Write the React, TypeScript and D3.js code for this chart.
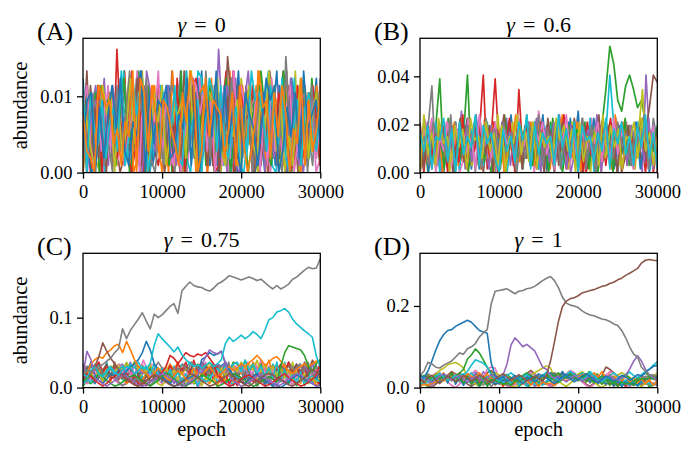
import { useEffect, useRef } from 'react';
import * as d3 from 'd3';

const EPOCH_MAX = 30000;
const X_TICKS = [0, 10000, 20000, 30000];

// Every string is one species: base-36 chars evenly spread over 0..30000 epochs
// (spaces ignored), multiplied by the group's unit to get the abundance.

// (A) gamma = 0
const A_UNIT = 0.00095;
const A_SERIES = [
  '3a61c0852b4907d3a185c2906b37a0e4158b2c6093a7150c8e2a4960b37d1',
  'b2807c49a15e3068b29c4071a5d3b806c2a9417e05b3a6c28049b1d7063a95c8',
  '07b4c2915a803e6b1492c07a5b38d1604ac92b7053e81a6c4097b2d51',
  'c5039a7b1h6e2048c9a3156b0d7248a1c063b9e5027a4c81b3690d2a5714b8a2',
  '419c06a2b8573d0916c4a82e0b5937a1h604d28b5190a73ce1b4068a2',
  'a0c7351b94028d6a3c17b504e92a68c03b71594ga026c8b3170a59e2c60483b96',
  '2896b0c4137a5e0829c6b14a3072d59b18c0e4637a29b05c81d4369a02',
  '6c1a4907b38c25d016a9b4730c5e82a16b94073dc2859a0614b30g72a9c51b4',
  '95b2086c1a4d3709b5c2a61807e4b39c2056a1d8430b97c16a2e05b389',
  '1b78c3054a9e2b61d8037c4a95b1206ed3a8571c0b49268c3ae1047b5d2962a7c',
  'd4016b9a2c5738e0b14a6c290785d3a1b06c47e29803b5a1c60d74a2985',
  '08a3c59b1647d02ab8c3960e4517a2bc0d6834a91c5b0e7263a8d14c0b9572',
  '7c2b05a918d463b0c7a29154e06b3a8c172d0594b6ac83172e5094c1ab3',
  '3596c0a4b2718e3d05a6c9142b708cd3a56019b4e2c78053a1d4b6902c8a5c71',
  'b08a3d1c6527940eb3a8c61579d0243ab6c8109e5a73b24c0d81a6b39',
  '5e192c0b7a4836d1c09b5a2740e8c3b619a057d2c4a80b63e9150c7a2b4869',
  '9c4073b2a6d15890c3b7e2a416059dc8b3a07142e6c9a5b081d3729c04ab6a28',
  '26b9a140c37e5b8d2061ac94b3750e2c8a1d694b07c35a28e1b690c4d',
  'a7315c8b0926d4ae03b7c1598a2e406cb9d3175a08c42b6e93a0517dc28b4',
  'c0b64a2793e15d8ca0473b96c21e58a07db3c4269105eab83c74d206a19b53a',
  '4ab0928c6d3175e0b4a9c2386d1b07a5e2c4930b8617dac0395b2e68a4',
  '8320cb9a46175e0db3c82a9641b7ec03d5a9826b1c4037e9a2b5c8064d1a36b',
];

// (B) gamma = 0.6
const B_UNIT = 0.0015;
const B_SERIES = [
  '5c8a2d0b6e 39f1c7a4d2 8b0g5a3c9e 16d4b8a2f7 h0c5a9d3b1 6e4a8c2d07 9',
  'a3d7b0c9e2 5a8d1f6b3c 0d9a4e7b2c 8a5g1d3b9c 6a0e4c8d2b 7f3a9c',
  '4b08dq3c96 5ar2e8b40d 7c39a61b4e d82e5b07c3 9c4d60dnzu khornikea7 3',
  '3d81b6a0c9 28e5dbr1aq 7c3b0n5d8a 2e6c94b17a 3d05c8a2e9 6b4d17c0a8 3',
  'b2e7a40d9c 5h1b8e3a6d 0c9f2a7b4e 8d1c6a3g9b 05e2d8a4c7 b1f6a9d3c0 r8b4',
  '07c4e1a9d3 b6f28c0a5e 3d9b16a4c8 e2a70d5b3f 9c16b4e8a2 d05c7a3bir p',
  'd5a9c2e7b0 4f8a1d6c3b 9e2a5c0h7d 3b8e1a4c6f 0d9b2a7e5c 8a1d4',
  '82co1d5b9e 3a7c0f4b8d 2e6a9c1g5b 7d0a3e8c4b 6f1d9a2c5e 0b8d4a7c3f 9',
  '1a6d3f8b0c 5e9a2d7c4b 0g3a8e1c6d 9b4f2a7d5c 1e8b3a0d6c 4a9e2b7d1c n5a3b',
  'c4a8e0d3b7 1f5c9a2e6b 8d0a4c7g3e 1b5d9a2c8e 4a6f0c3brd 5b9a2e7c1d 6',
  '6d0b9a4e2c 7a5f1d8b3c 0e6a9d2b5g 1c8a4e7d0b 3f9c6a2d5b 8e1a4c7',
  '9b3e6a0d8c 2f5b7a1e4d 9c0a6g3b8e 2d5a1c9f7b 4e0d6a3c8b 1g5e9a2d7c 4b0',
  '2e7a5c1f9b 4d0a8e3c6b 1g9a4d7c2e 5b0f8a3d6c 9e1b4a7d0c 5f2a8e3b6d',
  'a0d5b8e2c7 3g1a6d9b4e 0c7f2a5d8b 1e4c9a6g3d 7b0e5a2c8f 4d1b7a9e3c 0a',
  '5f9c2a7e0b 8d3g6a1c4e 9b2d5a8f0c 3e7a1d6b9c 4g0a5e8c2d 7b3f1a',
  'e1b6a4d9c0 7f3a8e2b5d 0c9g4a7e1b 6d3a0f8c2e 5b9a4d7c1g 3e8a0b6d2c 9f4a7b',
  '3c8f0a6e2d 9b5a1g7c4e 0d8a3f6b2c 9e5a1d7g4b 0c6a8e3d2f 5b9a1c7e4d 0',
  '7a2e9c4g0b 5d8a1f6c3e 9b0a4d7g2c 6e1a8b5f3d 0c9a4e7b2d 6g1a3',
  '0g5b2e8a3d 7c1f9a4e6b 2d0a8g5c3e 1b7a4f9d6c 0e3a8b2g5d 7c1a9e4f6 b2a',
  'b6d1a9f3c0 e5a7g2d8b4 0c6a3e9f1d 5b8a2g7c4e 0d9a3b6f1c 8e5a2d7g4b 1',
];

// (C) gamma = 0.75: species with visible bumps (unit 0.002), the rest (unit 0.0028)
const C_MARKED_UNIT = 0.002;
const C_MARKED = [
  '6bi9536a8c 9cfhkpxrhd 8531246798 kmpnoqhd96 4368a75312 0247986431 2',
  '5ahkmlpruv pxrkfca7ae b759ca647b 9cfb7adfce hfiknkgilm jfcadfhfhj h',
  '4796a85312 4689753135 8a96421357 98641246a9 7531246864 fputsrnfch k',
  '6a8531368b 9642135798 bfnlhlpnmo nplh963124 6897531246 8a75312469 h',
  '9qk7531357 9864212468 a975312469 gmrpoqi853 1246897531 2468a97531 2',
  '68bfmwqlhd 9642135798 6421246a97 5312468a86 4213579a97 6421357bdb 9',
];
const C_REST_UNIT = 0.0028;
const C_REST = [
  '3687a9b642 1357ac8b64 2358796a4c 9d7b524136 8a7c9e8b63 5247a68b93 5',
  '9b7c846a53 1245378b9d a7c5836241 35a8b7d9c6 4827351469 b8da7c5634 2',
  '2546879bac 8d96b47352 1436589a7c b9d8a64725 3156487a9c 8b6d49573a 2',
  'a8b9c7d586 4735261435 8a7b9cad8b 6947352416 3758a9b7c8 6d5a473825 1',
  '4352687a9b 8c7d5b6a49 3725143658 7b9acbd9a6 8475362413 5a79c8b6d4 9',
  '7869a5b3c4 6253147968 a8c9d7b5a6 3425163849 7b8dac9e7b 5c4a627351 4',
  '1324576a8b 9c8d7b6a59 4736251423 5869a7b8dc 9e8b6c4a57 3624153789 a',
  'b9cad8b6a7 5836241354 a6b8c9d7e8 c6a4b37261 425368a7b9 c8d6b5a473 2',
  '5463728a9b c8d6b7a594 8362514370 8a9bcad9b7 c5a4836251 4367a9b8c6 d',
  '8a7b69c5d4 b3a2716354 8796a8b9ca db8c7a6b59 3826143579 a9b8c7d9eb 5',
  '3254769a8c 7b6d8e9cb7 a58463725 14368a7c9b 8ad6c5b4a3 9281634579 6',
  'c8b9a76857 4635241365 87a9c8db9a 7c6b5d4a39 2718364 5a7b9c8d7b 6',
  '6574839a8b 9cad9b8c7a 6b59483726 15347a69b8 dac9e8c7b6 a594837253 4',
  '2435768a79 b8cad9b7c6 a594837261 5348a7b9cd 8e9c7b6a5d 4937281564 3',
];
const C_GRAY = [
  0.020, 0.025, 0.022, 0.028, 0.030, 0.033, 0.038, 0.042, 0.050, 0.056,
  0.084, 0.070, 0.082, 0.090, 0.098, 0.107, 0.095, 0.084, 0.105, 0.100,
  0.104, 0.110, 0.116, 0.120, 0.106, 0.138, 0.145, 0.151, 0.146, 0.144,
  0.143, 0.140, 0.138, 0.142, 0.148, 0.151, 0.155, 0.160, 0.158, 0.156,
  0.154, 0.156, 0.158, 0.156, 0.153, 0.155, 0.150, 0.145, 0.141, 0.146,
  0.141, 0.144, 0.148, 0.155, 0.158, 0.163, 0.168, 0.172, 0.170, 0.171,
  0.184,
];
const C_CYAN = [
  0.020, 0.015, 0.025, 0.030, 0.020, 0.015, 0.025, 0.030, 0.022, 0.018,
  0.025, 0.030, 0.028, 0.020, 0.024, 0.030, 0.026, 0.035, 0.060, 0.077,
  0.070, 0.064, 0.058, 0.051, 0.058, 0.047, 0.040, 0.035, 0.030, 0.033,
  0.028, 0.032, 0.036, 0.030, 0.034, 0.040, 0.063, 0.072, 0.066, 0.070,
  0.075, 0.070, 0.074, 0.080, 0.076, 0.070, 0.082, 0.097, 0.100, 0.108,
  0.110, 0.113, 0.108, 0.098, 0.091, 0.086, 0.081, 0.077, 0.072, 0.045,
  0.030,
];

// (D) gamma = 1
const D_UNIT = 0.0028;
const D_SERIES = [
  '5364857a69 b8c7d5a4b3 9282716354 87a6b9c8ad 9b7c5a4938 2716354879 a',
  'a8b7c9d6e8 b7a5948372 6153426879 a8bcdb9c7a 6b59483726 153468a7b9 5',
  '2315467 89 ab9c8d7b6a 5948372615 243679a8bc 9d8e9c7b6a 5948372612 6',
  '7869a8b7c9 d8b6a59483 7261534268 a79bc8da9b 7c6a594837 2615243789 a',
  '43526879a8 b9c8d7e9b8 a694837261 5342687 9a8 bc9d8b7a69 4837261534 2',
  '9520369bec 963147adfb 8520369cfc 9631258bdb 963147aigd 963147a852 5',
  '147adb8520 369cfc9gih 8520369bdb 963147acfd 8520369bec 963147adb8 5',
  'b9ca8d7b6a 5948372615 342568798a 9bc8d9e8b7 a594837261 5342687 a9b 6',
  '5369cfhklm kh963147ad b8520369bd fhjh963147 ceb8520369 bdb963147a d',
  '3425687 9a8 bc9d8b7a65 9483726153 426879ab9c 8d9eb7a694 8372615342 6',
  '8796a5b4c3 9283716253 47586a79b8 ca9db8e9c7 a6b5948372 6153426879 a',
  '132457 68a9 b8ca9d8c7b 6a59483726 1534257 68a 9bc8d9e8c7 b6a5948372 6',
  '69a8b7c6d5 b4a3928176 53426587 9a 8b9cad8b7c 6a59483726 1534268 79a 8',
];
const D_BLUE = [
  0.030, 0.025, 0.040, 0.065, 0.092, 0.115, 0.130, 0.140, 0.142, 0.150,
  0.155, 0.160, 0.165, 0.160, 0.150, 0.140, 0.136, 0.133, 0.060, 0.030,
  0.020, 0.028, 0.015, 0.022, 0.030, 0.018, 0.010, 0.020, 0.026, 0.014,
  0.022, 0.030, 0.024, 0.016, 0.010, 0.018, 0.026, 0.032, 0.022, 0.014,
  0.020, 0.028, 0.034, 0.026, 0.018, 0.012, 0.020, 0.028, 0.024, 0.016,
  0.022, 0.030, 0.026, 0.018, 0.024, 0.032, 0.028, 0.036, 0.045, 0.052,
  0.055,
];
const D_GRAY = [
  0.030, 0.040, 0.062, 0.058, 0.050, 0.048, 0.055, 0.060, 0.065, 0.075,
  0.085, 0.082, 0.095, 0.100, 0.108, 0.124, 0.134, 0.142, 0.205, 0.236,
  0.238, 0.240, 0.242, 0.236, 0.230, 0.236, 0.238, 0.242, 0.244, 0.248,
  0.255, 0.262, 0.268, 0.272, 0.262, 0.245, 0.222, 0.207, 0.202, 0.200,
  0.196, 0.188, 0.182, 0.178, 0.176, 0.172, 0.168, 0.166, 0.162, 0.156,
  0.152, 0.140, 0.122, 0.100, 0.082, 0.075, 0.050, 0.040, 0.032, 0.030,
  0.028,
];
const D_BROWN = [
  0.020, 0.012, 0.025, 0.030, 0.018, 0.010, 0.020, 0.028, 0.022, 0.014,
  0.020, 0.030, 0.024, 0.016, 0.022, 0.030, 0.026, 0.018, 0.012, 0.020,
  0.028, 0.034, 0.026, 0.018, 0.024, 0.032, 0.025, 0.016, 0.020, 0.028,
  0.022, 0.015, 0.030, 0.065, 0.112, 0.162, 0.198, 0.212, 0.218, 0.220,
  0.225, 0.232, 0.235, 0.238, 0.240, 0.244, 0.248, 0.250, 0.255, 0.258,
  0.264, 0.268, 0.275, 0.280, 0.286, 0.292, 0.305, 0.312, 0.314, 0.312,
  0.311,
];
const D_PURPLE = [
  0.018, 0.026, 0.020, 0.012, 0.020, 0.028, 0.034, 0.026, 0.018, 0.024,
  0.030, 0.022, 0.014, 0.020, 0.028, 0.022, 0.016, 0.024, 0.032, 0.026,
  0.020, 0.030, 0.058, 0.104, 0.122, 0.112, 0.100, 0.106, 0.098, 0.090,
  0.070, 0.050, 0.045, 0.030, 0.022, 0.028, 0.020, 0.014, 0.022, 0.030,
  0.024, 0.016, 0.022, 0.028, 0.020, 0.014, 0.020, 0.026, 0.030, 0.022,
  0.018, 0.024, 0.030, 0.045, 0.064, 0.078, 0.065, 0.045, 0.030, 0.025,
  0.020,
];
const D_GREEN = [
  0.020, 0.030, 0.024, 0.016, 0.022, 0.030, 0.026, 0.018, 0.024, 0.030,
  0.035, 0.045, 0.070, 0.080, 0.095, 0.085, 0.068, 0.050, 0.035, 0.028,
  0.020, 0.026, 0.032, 0.024, 0.016, 0.022, 0.030, 0.036, 0.028, 0.020,
  0.014, 0.022, 0.030, 0.024, 0.018, 0.012, 0.020, 0.028, 0.034, 0.026,
  0.018, 0.024, 0.030, 0.022, 0.014, 0.020, 0.028, 0.024, 0.016, 0.010,
  0.018, 0.026, 0.032, 0.024, 0.016, 0.022, 0.030, 0.036, 0.028, 0.020,
  0.024,
];
const D_CYAN = [
  0.030, 0.022, 0.014, 0.020, 0.028, 0.034, 0.026, 0.018, 0.024, 0.030,
  0.022, 0.030, 0.040, 0.055, 0.068, 0.064, 0.060, 0.050, 0.030, 0.022,
  0.016, 0.024, 0.030, 0.036, 0.028, 0.020, 0.026, 0.032, 0.024, 0.016,
  0.022, 0.030, 0.038, 0.030, 0.022, 0.016, 0.024, 0.032, 0.040, 0.032,
  0.024, 0.018, 0.026, 0.034, 0.028, 0.020, 0.014, 0.022, 0.030, 0.036,
  0.028, 0.022, 0.030, 0.038, 0.030, 0.024, 0.032, 0.040, 0.045, 0.055,
  0.063,
];

const TAB10 = d3.schemeCategory10;
const FONT = 'Liberation Serif, DejaVu Serif, serif';

const COL_LEFT = [83, 420];
const ROW_TOP = [38.3, 253.3];
const PW = 237.3;
const PH = 134.3;

const PANELS = [
  { tag: '(A)', gamma: '0', col: 0, row: 0, lw: 1.7, groups: [{ s: A_SERIES, unit: A_UNIT, c0: 0 }], big: [], bigColor: [], yMax: 0.0176, yTicks: [0, 0.01], yFmt: '.2f' },
  { tag: '(B)', gamma: '0.6', col: 1, row: 0, lw: 1.7, groups: [{ s: B_SERIES, unit: B_UNIT, c0: 0 }], big: [], bigColor: [], yMax: 0.0558, yTicks: [0, 0.02, 0.04], yFmt: '.2f' },
  { tag: '(C)', gamma: '0.75', col: 0, row: 1, lw: 1.6, groups: [{ s: C_REST, unit: C_REST_UNIT, c0: 6 }, { s: C_MARKED, unit: C_MARKED_UNIT, c0: 0 }], big: [C_CYAN, C_GRAY], bigColor: [9, 7], yMax: 0.192, yTicks: [0, 0.1], yFmt: '.1f' },
  { tag: '(D)', gamma: '1', col: 1, row: 1, lw: 1.6, groups: [{ s: D_SERIES, unit: D_UNIT, c0: 0 }], big: [D_GREEN, D_CYAN, D_PURPLE, D_BLUE, D_GRAY, D_BROWN], bigColor: [2, 9, 4, 0, 7, 5], yMax: 0.329, yTicks: [0, 0.2], yFmt: '.1f' },
];

function decode(s: string, unit: number): number[] {
  return s.replace(/\s/g, '').split('').map(c => parseInt(c, 36) * unit);
}

export default function App() {
  const ref = useRef<SVGSVGElement>(null);

  useEffect(() => {
    const svg = d3.select(ref.current);
    svg.selectAll('*').remove();

    PANELS.forEach((p, pi) => {
      const left = COL_LEFT[p.col];
      const top = ROW_TOP[p.row];
      const x = d3.scaleLinear().domain([0, EPOCH_MAX]).range([0, PW]);
      const y = d3.scaleLinear().domain([0, p.yMax]).range([PH, 0]);
      const g = svg.append('g').attr('transform', `translate(${left},${top})`);

      const clipId = `clip-${pi}`;
      g.append('clipPath').attr('id', clipId)
        .append('rect').attr('width', PW).attr('height', PH);
      const plot = g.append('g').attr('clip-path', `url(#${clipId})`);

      const line = d3.line<number>()
        .x((_, i, arr) => x((i / (arr.length - 1)) * EPOCH_MAX))
        .y(v => y(v));

      const draw = (vals: number[], color: string) => {
        plot.append('path').attr('d', line(vals))
          .attr('fill', 'none').attr('stroke', color)
          .attr('stroke-width', p.lw).attr('stroke-linejoin', 'round');
      };

      p.groups.forEach(gr => gr.s.forEach((s, i) => draw(decode(s, gr.unit), TAB10[(gr.c0 + i) % 10])));
      p.big.forEach((vals, i) => draw(vals, TAB10[p.bigColor[i]]));

      // frame
      g.append('rect').attr('width', PW).attr('height', PH)
        .attr('fill', 'none').attr('stroke', '#000').attr('stroke-width', 1.3);

      // ── axes ──
      const ax = g.append('g').attr('transform', `translate(0,${PH})`)
        .call(d3.axisBottom(x).tickValues(X_TICKS).tickSize(6).tickPadding(6).tickFormat(d3.format('d')));
      const ay = g.append('g')
        .call(d3.axisLeft(y).tickValues(p.yTicks).tickSize(6).tickPadding(4.5).tickFormat(d3.format(p.yFmt)));
      [ax, ay].forEach(a => {
        a.attr('font-family', null).attr('font-size', null);
        a.select('.domain').remove();
        a.selectAll('line').attr('stroke', '#000').attr('stroke-width', 1.3);
        a.selectAll('text').attr('fill', '#000').style('font-size', '18.5px').style('font-family', FONT);
      });

      // title
      const t = g.append('text').attr('x', PW / 2).attr('y', -6.6)
        .attr('text-anchor', 'middle').style('font-family', FONT).style('font-size', '22px');
      t.append('tspan').attr('font-style', 'italic').text('γ');
      t.append('tspan').attr('dx', 8).text('=');
      t.append('tspan').attr('dx', 8).text(p.gamma);

      // panel tag
      g.append('text').attr('x', -46).attr('y', 2)
        .style('font-family', FONT).style('font-size', '26px').text(p.tag);

      if (p.col === 0) {
        g.append('text').attr('transform', `translate(${26.5 - left},${PH / 2}) rotate(-90)`)
          .attr('text-anchor', 'middle').style('font-family', FONT).style('font-size', '20.5px')
          .text('abundance');
      }
      if (p.row === 1) {
        g.append('text').attr('x', PW / 2).attr('y', 436 - top)
          .attr('text-anchor', 'middle').style('font-family', FONT).style('font-size', '20.5px')
          .text('epoch');
      }
    });
  }, []);

  return (
    <svg ref={ref} width={694} height={454}
      style={{ position: 'absolute', left: 0, top: 0, background: '#fff', display: 'block' }} />
  );
}
